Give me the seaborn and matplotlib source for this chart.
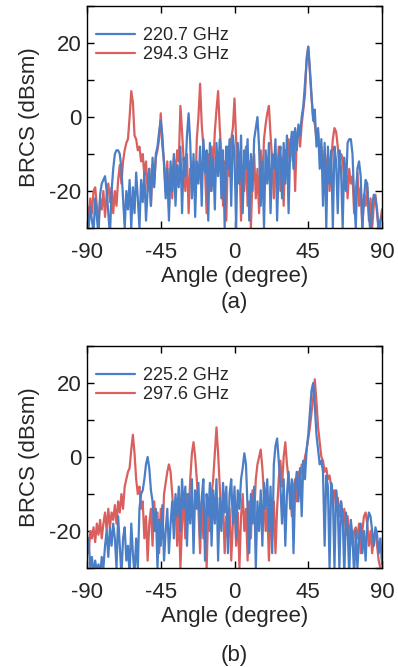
import numpy as np
import pandas as pd
import matplotlib
matplotlib.use("Agg")
import matplotlib.pyplot as plt
import seaborn as sns
from matplotlib.ticker import MultipleLocator
from matplotlib.lines import Line2D

angles = list(range(-90, 91))

labels_a = ["220.7 GHz", "294.3 GHz"]
labels_b = ["225.2 GHz", "297.6 GHz"]

blue_a = [-26, -30, -24, -28, -31, -22, -27, -32, -21, -18, -17, -16, -20, -26, -32, -20, -14, -10, -9, -9,
          -10, -14, -22, -30, -20, -25, -17, -30, -19, -26, -15, -22, -30, -17, -23, -15, -28, -20, -14, -24,
          -11, -19, -10, -8, -4, -1, -5, -13, -22, -14, -28, -12, -20, -10, -24, -13, -19, -8, -26, -11,
          -16, -5, 1, -7, -22, -10, -27, -12, -18, -8, -24, -6, -15, -9, -28, -7, -20, -11, -25, -7,
          -16, -6, -22, -9, -30, -8, -14, -6, -24, -5, -10, -30, -7, -18, -5, -26, -9, -14, -6, -28,
          -10, -20, -6, -3, 0, -8, -24, -12, -30, -9, -18, -7, -26, -10, -14, -6, -28, -12, -8, -22,
          -7, -18, -5, -26, -8, -4, -14, -3, -9, -2, -5, 0, 3, 9, 15, 19, 13, 6, -1, 2,
          -8, -3, -14, -6, -24, -7, -30, -8, -18, -9, -30, -8, -12, -26, -9, -14, -30, -11, -20, -7,
          -6, -6, -10, -22, -30, -14, -12, -16, -30, -22, -17, -18, -26, -32, -24, -21, -22, -25, -32, -28,
          -27]

red_a = [-24, -27, -22, -26, -20, -19, -24, -29, -22, -25, -20, -27, -21, -18, -23, -19, -26, -20, -24, -17,
         -13, -18, -12, -9, -7, -6, 0, 7, 4, -5, -6, -9, -8, -12, -10, -16, -12, -20, -14, -24,
         -13, -18, -11, -9, -6, 1, -8, -12, -20, -12, -25, -14, -22, -11, -16, -9, -12, 3, -4, -12,
         -20, -10, -26, -14, -18, -12, -22, -6, 0, 9, -2, -8, -14, -26, -10, -20, -8, -14, -4, 2,
         7, -3, -10, -24, -12, -28, -8, -16, -6, -3, 5, -6, -18, -10, -28, -14, -20, -8, -24, -12,
         -30, -16, -10, -22, -14, -26, -9, -18, -6, -2, 1, 3, -5, -12, -22, -10, -16, -8, -20, -11,
         -24, -9, -14, -6, -12, -7, -4, -20, -5, -3, -8, -2, 2, 6, 16, 19, 12, 5, 0, -2,
         -6, -4, -10, -8, -14, -9, -16, -10, -20, -12, -6, -3, -4, -8, -14, -10, -11, -18, -13, -22,
         -14, -18, -16, -26, -20, -15, -24, -19, -30, -21, -24, -19, -28, -22, -30, -24, -21, -26, -30, -28,
         -25]

blue_b = [-25, -22, -30, -27, -32, -28, -31, -29, -32, -27, -30, -24, -20, -27, -19, -24, -18, -22, -30, -16,
          -24, -32, -22, -19, -28, -24, -32, -18, -26, -32, -22, -30, -14, -10, -9, -6, -2, 0, -3, -9,
          -12, -20, -14, -30, -17, -24, -13, -28, -20, -14, -26, -18, -12, -22, -10, -16, -8, -20, -6, -14,
          -8, -24, -10, -18, -6, -26, -9, -14, -7, -22, -11, -6, -28, -10, -16, -7, -24, -9, -18, -6,
          -28, -11, -20, -7, -15, -8, -26, -10, -6, -18, -8, -22, -9, -14, -6, -3, 1, -2, -14, -26,
          -10, -18, -8, -30, -12, -20, -9, -24, -7, -14, -6, -20, -8, -26, -2, 3, 5, -1, -8, -18,
          -6, -24, -10, -4, -14, -6, -26, -8, -4, -12, -3, -16, -1, -6, 2, 6, 12, 18, 20, 14,
          6, 2, -2, -1, -4, -24, -5, -8, -30, -7, -10, -30, -9, -13, -30, -12, -16, -32, -15, -19,
          -32, -17, -22, -32, -20, -30, -22, -18, -26, -20, -28, -18, -15, -16, -20, -24, -19, -21, -26, -22,
          -29]

red_b = [-21, -26, -20, -22, -19, -23, -18, -21, -17, -22, -18, -15, -20, -14, -19, -15, -17, -13, -18, -12,
         -15, -10, -14, -8, -6, -4, -3, 2, 6, 1, -6, -10, -8, -14, -12, -22, -16, -28, -18, -14,
         -24, -12, -20, -15, -26, -14, -22, -10, -7, -4, -2, -4, -10, -16, -12, -24, -14, -30, -18, -12,
         -22, -10, -16, -6, 1, 4, 0, -6, -14, -26, -12, -22, -16, -30, -14, -20, -10, -6, 1, 8,
         1, -8, -18, -12, -26, -16, -22, -14, -28, -18, -12, -24, -15, -30, -16, -10, -20, -14, -28, -12,
         -22, -9, -16, -6, -2, 0, 2, -3, -10, -20, -14, -28, -16, -22, -12, -26, -14, -6, -1, -8,
         0, 4, -2, -6, -10, -16, -8, -6, -12, -4, -6, -2, -5, 0, 2, 5, 8, 12, 16, 21,
         15, 8, 4, 0, -1, -4, -3, -6, -5, -8, -10, -9, -14, -11, -16, -12, -18, -14, -21, -16,
         -22, -18, -24, -20, -19, -22, -18, -26, -20, -16, -15, -18, -24, -20, -26, -22, -20, -24, -28, -30,
         -31]

BLUE = "#4a7ec6"
RED = "#d9605e"

sns.set_style("ticks")
plt.rcParams["font.family"] = ["Liberation Sans", "DejaVu Sans"]

fig = plt.figure(figsize=(3.98, 6.67), dpi=100)
ax_a = fig.add_axes([87 / 398, 1 - 228 / 667, 295 / 398, 222 / 667])
ax_b = fig.add_axes([87 / 398, 1 - 568 / 667, 295 / 398, 222 / 667])


def draw(ax, blue, red, labels, tag, tag_y):
    df = pd.DataFrame({
        "Angle": angles * 2,
        "BRCS": red + blue,
        "Freq": [labels[1]] * len(angles) + [labels[0]] * len(angles),
    })
    sns.lineplot(data=df, x="Angle", y="BRCS", hue="Freq", hue_order=[labels[1], labels[0]],
                 palette={labels[0]: BLUE, labels[1]: RED}, lw=1.6, ax=ax, legend=False)
    ax.set_xlim(-90, 90)
    ax.set_ylim(-30, 30)
    ax.set_xticks([-90, -45, 0, 45, 90])
    ax.set_xticklabels(["-90", "-45", "0", "45", "90"])
    ax.set_yticks([-20, 0, 20])
    ax.set_yticklabels(["-20", "0", "20"])
    ax.yaxis.set_minor_locator(MultipleLocator(10))
    ax.tick_params(axis="both", which="both", direction="in", top=True, right=True,
                   length=5, width=1, labelsize=16, color="black")
    ax.tick_params(axis="x", pad=10)
    ax.tick_params(axis="y", pad=4)
    for s in ax.spines.values():
        s.set_linewidth(1.0)
        s.set_color("black")
    ax.set_xlabel("Angle (degree)", fontsize=16, labelpad=2)
    ax.set_ylabel("BRCS (dBsm)", fontsize=16, labelpad=7)
    handles = [Line2D([], [], color=BLUE, lw=1.6), Line2D([], [], color=RED, lw=1.6)]
    ax.legend(handles, labels, loc="upper left", frameon=False, fontsize=13,
              handlelength=2.15, handletextpad=0.45, labelspacing=0.1,
              borderaxespad=0.0, borderpad=0.0, bbox_to_anchor=(0.03, 0.905))
    ax.text(0.5, tag_y, tag, transform=ax.transAxes, ha="center", va="center", fontsize=16)


draw(ax_a, blue_a, red_a, labels_a, "(a)", -0.335)
draw(ax_b, blue_b, red_b, labels_b, "(b)", -0.392)

fig.savefig("out.png", dpi=100)
